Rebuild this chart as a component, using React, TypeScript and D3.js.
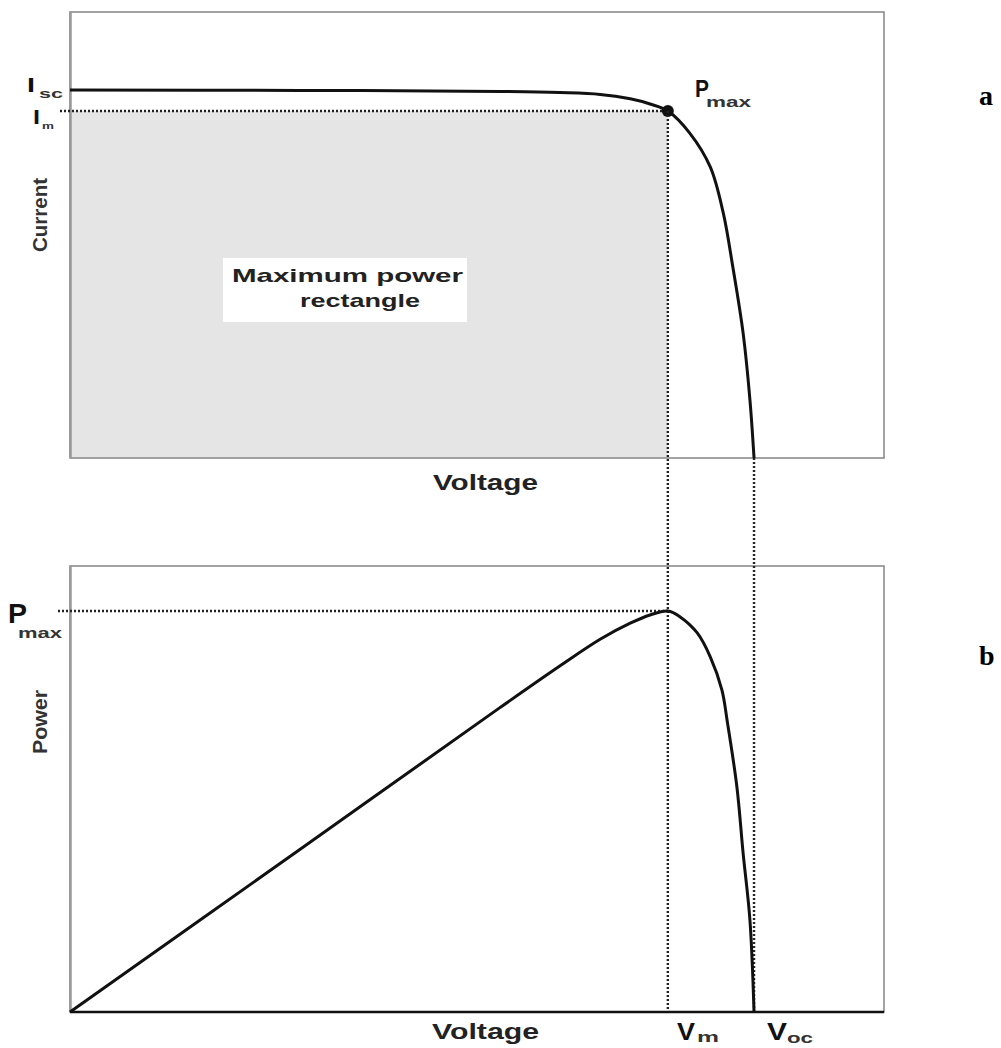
import React from "react";
import * as d3 from "d3";

// I-V curve (voltage normalised to Voc = 1, current to Isc = 1)
const ivVoltage = [0, 0.336, 0.629, 0.716, 0.775, 0.819, 0.848, 0.874, 0.906, 0.936, 0.955, 0.969, 0.984, 0.994, 1.0];
const ivCurrent = [1.0, 0.999, 0.996, 0.993, 0.988, 0.976, 0.962, 0.943, 0.883, 0.791, 0.666, 0.519, 0.34, 0.158, 0];

// P-V curve
const pvVoltage = [0, 0.336, 0.629, 0.716, 0.775, 0.819, 0.848, 0.874, 0.892, 0.917, 0.936, 0.953, 0.961, 0.975, 0.984, 0.994, 1.0];
const pvPower = [0, 0.334, 0.626, 0.711, 0.766, 0.799, 0.816, 0.824, 0.812, 0.779, 0.73, 0.662, 0.596, 0.462, 0.327, 0.189, 0];

const Vm = 0.874;
const Voc = 1.0;
const Im = 0.943;
const Pmax = 0.824;

const W = 1001;
const H = 1048;
const left = 70;
const right = 884;

const boldFont = "'Liberation Sans', Arial, sans-serif";

export default function App() {
  const x = d3.scaleLinear().domain([0, 1.19]).range([left, right]);
  const yI = d3.scaleLinear().domain([0, 1.212]).range([458, 12]);
  const yP = d3.scaleLinear().domain([0, 0.9166]).range([1012, 566]);

  const ivLine = d3
    .line<number>()
    .x((d, i) => x(ivVoltage[i]))
    .y((d) => yI(d))
    .curve(d3.curveCatmullRom.alpha(0.5));
  const pvLine = d3
    .line<number>()
    .x((d, i) => x(pvVoltage[i]))
    .y((d) => yP(d))
    .curve(d3.curveCatmullRom.alpha(0.5));

  const dotted = { stroke: "#222", strokeWidth: 2.4, strokeDasharray: "2 2", fill: "none" };
  const frame = { stroke: "#8c8c8c", strokeWidth: 1.6, fill: "none" };

  return (
    <svg
      width={W}
      height={H}
      style={{ position: "absolute", left: 0, top: 0, background: "#fff" }}
      fontFamily={boldFont}
      fontWeight="bold"
    >
      {/* ---------- panel a ---------- */}
      <rect x={x(0)} y={yI(Im)} width={x(Vm) - x(0)} height={yI(0) - yI(Im)} fill="#e5e5e5" />
      <rect x={x(0)} y={yI(1.212)} width={right - left} height={yI(0) - yI(1.212)} {...frame} />
      <line x1={x(0) + 0.5} x2={x(0) + 0.5} y1={yI(1.212)} y2={yI(0)} stroke="#999" strokeWidth={2.5} />

      <rect x={223} y={258} width={244} height={64} fill="#fff" />
      <text x={232} y={282} fontSize={19} fill="#222" textLength={231} lengthAdjust="spacingAndGlyphs">
        Maximum power
      </text>
      <text x={300} y={307} fontSize={19} fill="#222" textLength={120} lengthAdjust="spacingAndGlyphs">
        rectangle
      </text>

      <line x1={60} x2={x(Vm)} y1={yI(Im)} y2={yI(Im)} {...dotted} />
      <path d={ivLine(ivCurrent) || ""} fill="none" stroke="#111" strokeWidth={3} />
      <circle cx={x(Vm)} cy={yI(Im)} r={6} fill="#111" />

      <text
        transform={`translate(47,215) rotate(-90)`}
        textAnchor="middle"
        fontSize={20}
        fill="#333"
        textLength={74}
        lengthAdjust="spacingAndGlyphs"
      >
        Current
      </text>
      <text x={433} y={490} fontSize={22} fill="#222" textLength={105} lengthAdjust="spacingAndGlyphs">
        Voltage
      </text>

      <text x={27} y={92} fontSize={20} fill="#111" textLength={8} lengthAdjust="spacingAndGlyphs">I</text>
      <text x={39} y={98} fontSize={13} fill="#333" textLength={24} lengthAdjust="spacingAndGlyphs">sc</text>
      <text x={33} y={124} fontSize={20} fill="#111" textLength={7} lengthAdjust="spacingAndGlyphs">I</text>
      <text x={42} y={129} fontSize={9} fill="#333" textLength={12} lengthAdjust="spacingAndGlyphs">m</text>

      <text x={695} y={97} fontSize={24} fill="#111" textLength={14} lengthAdjust="spacingAndGlyphs">P</text>
      <text x={706} y={107} fontSize={14} fill="#333" textLength={45} lengthAdjust="spacingAndGlyphs">max</text>

      <text x={979} y={105} fontSize={28} fontFamily="'Liberation Serif', 'Times New Roman', serif" fill="#000">
        a
      </text>

      {/* ---------- panel b ---------- */}
      <rect x={x(0)} y={yP(0.9166)} width={right - left} height={yP(0) - yP(0.9166)} {...frame} />
      <line x1={x(0) + 0.5} x2={x(0) + 0.5} y1={yP(0.9166)} y2={yP(0)} stroke="#999" strokeWidth={2.5} />

      <line x1={58} x2={x(Vm)} y1={yP(Pmax)} y2={yP(Pmax)} {...dotted} />
      <line x1={x(Vm)} x2={x(Vm)} y1={yI(Im)} y2={yP(0)} {...dotted} />
      <line x1={x(Voc)} x2={x(Voc)} y1={yI(0)} y2={yP(0)} {...dotted} />

      <line x1={x(0)} x2={right} y1={yP(0)} y2={yP(0)} stroke="#111" strokeWidth={2.5} />
      <path d={pvLine(pvPower) || ""} fill="none" stroke="#111" strokeWidth={3} />

      <text
        transform={`translate(47,722) rotate(-90)`}
        textAnchor="middle"
        fontSize={20}
        fill="#333"
        textLength={64}
        lengthAdjust="spacingAndGlyphs"
      >
        Power
      </text>
      <text x={432} y={1039} fontSize={22} fill="#222" textLength={107} lengthAdjust="spacingAndGlyphs">
        Voltage
      </text>

      <text x={8} y={623} fontSize={28} fill="#111" textLength={19} lengthAdjust="spacingAndGlyphs">P</text>
      <text x={18} y={638} fontSize={15} fill="#333" textLength={44} lengthAdjust="spacingAndGlyphs">max</text>

      <text x={677} y={1040} fontSize={24} fill="#111" textLength={18} lengthAdjust="spacingAndGlyphs">V</text>
      <text x={697} y={1042} fontSize={14} fill="#333" textLength={22} lengthAdjust="spacingAndGlyphs">m</text>
      <text x={767} y={1040} fontSize={24} fill="#111" textLength={20} lengthAdjust="spacingAndGlyphs">V</text>
      <text x={787} y={1043} fontSize={14} fill="#333" textLength={26} lengthAdjust="spacingAndGlyphs">oc</text>

      <text x={979} y={665} fontSize={28} fontFamily="'Liberation Serif', 'Times New Roman', serif" fill="#000">
        b
      </text>
    </svg>
  );
}
